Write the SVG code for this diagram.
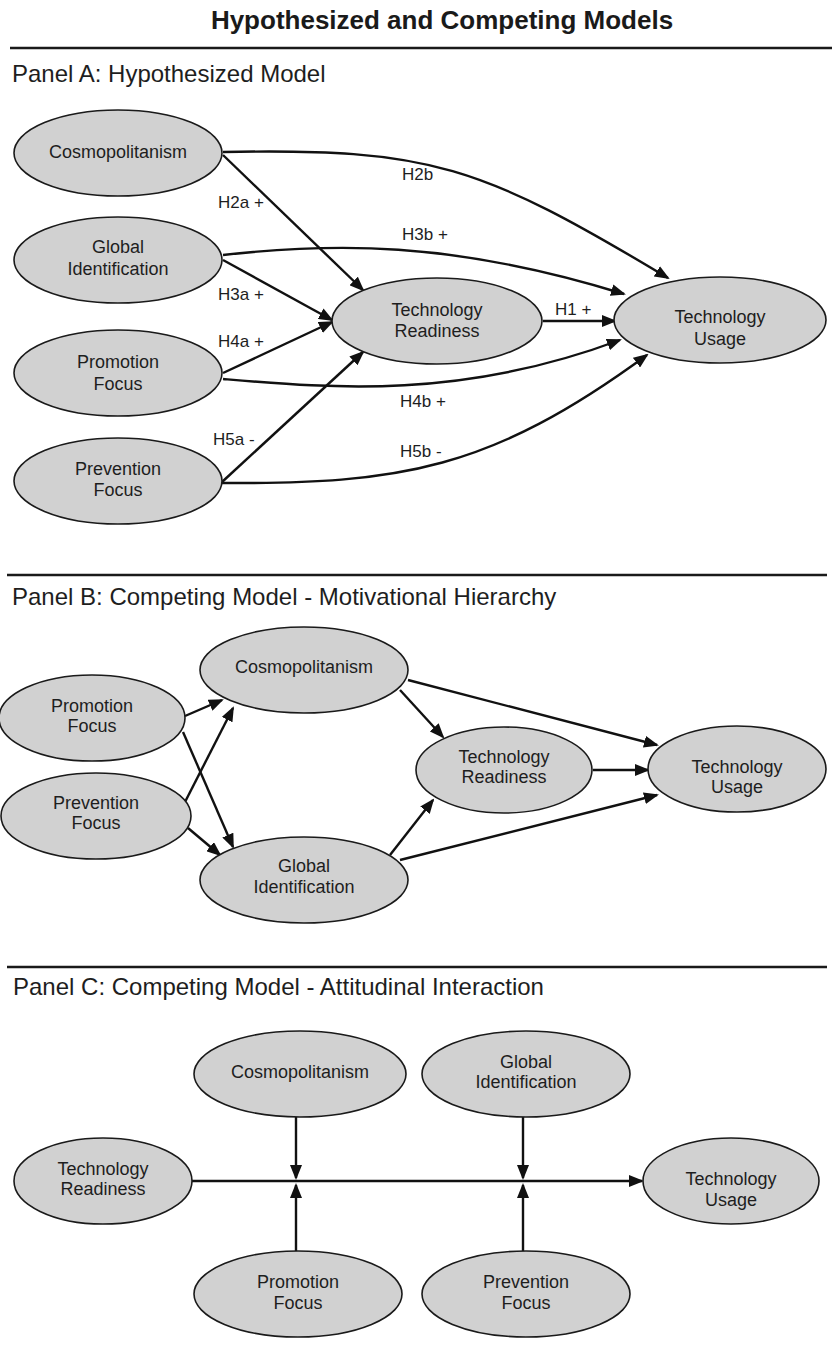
<svg xmlns="http://www.w3.org/2000/svg" width="832" height="1361" viewBox="0 0 832 1361">
<defs>
<style>
.bg{fill:#ffffff}
.node ellipse{fill:#d1d1d1;stroke:#1a1a1a;stroke-width:1.6}
.node text{font-family:"Liberation Sans",Arial,sans-serif;font-size:18px;fill:#1e1e1e;text-anchor:middle}
.title{font-family:"Liberation Sans",Arial,sans-serif;font-size:26px;font-weight:bold;fill:#1a1a1a;text-anchor:middle}
.panel{font-family:"Liberation Sans",Arial,sans-serif;font-size:24px;fill:#1e1e1e}
.lbl{font-family:"Liberation Sans",Arial,sans-serif;font-size:17px;fill:#1e1e1e}
.rule{stroke:#1a1a1a;stroke-width:2.4}
.edge{fill:none;stroke:#111;stroke-width:2.4;marker-end:url(#ah)}
</style>
<marker id="ah" markerUnits="userSpaceOnUse" viewBox="0 0 15 12" markerWidth="15" markerHeight="12" refX="13" refY="6" orient="auto">
<path d="M0,0 L15,6 L0,12 z" fill="#111"/>
</marker>
</defs>
<rect class="bg" x="0" y="0" width="832" height="1361"/>

<text class="title" x="442" y="29">Hypothesized and Competing Models</text>
<line class="rule" x1="10" y1="48" x2="832" y2="48"/>
<text class="panel" x="12" y="82">Panel A: Hypothesized Model</text>
<line class="rule" x1="7" y1="575" x2="827" y2="575"/>
<text class="panel" x="12" y="605">Panel B: Competing Model - Motivational Hierarchy</text>
<line class="rule" x1="7" y1="967" x2="827" y2="967"/>
<text class="panel" x="13" y="995">Panel C: Competing Model - Attitudinal Interaction</text>

<!-- Panel A connectors -->
<g id="connectors-a">
<path class="edge" d="M223,152 C430,148 480,165 668,278"/>
<path class="edge" d="M223,255 C330,243 450,240 624,294"/>
<path class="edge" d="M223,379 C330,388 460,400 620,340"/>
<path class="edge" d="M222,483 C400,484 490,470 647,355"/>
<line class="edge" x1="223" y1="155" x2="363" y2="290"/>
<line class="edge" x1="223" y1="260" x2="332" y2="320"/>
<line class="edge" x1="223" y1="373" x2="332" y2="322"/>
<line class="edge" x1="222" y1="482" x2="363" y2="352"/>
<line class="edge" x1="543" y1="321" x2="615" y2="321"/>
<text class="lbl" x="218" y="208">H2a +</text>
<text class="lbl" x="402" y="180">H2b</text>
<text class="lbl" x="402" y="240">H3b +</text>
<text class="lbl" x="218" y="300">H3a +</text>
<text class="lbl" x="555" y="315">H1 +</text>
<text class="lbl" x="218" y="347">H4a +</text>
<text class="lbl" x="400" y="407">H4b +</text>
<text class="lbl" x="213" y="445">H5a -</text>
<text class="lbl" x="400" y="457">H5b -</text>
</g>

<g id="a-cosmopolitanism" class="node"><ellipse cx="118" cy="153" rx="104" ry="43"/><text x="118" y="158">Cosmopolitanism</text></g>
<g id="a-global" class="node"><ellipse cx="118" cy="260" rx="104" ry="43"/><text x="118" y="253">Global</text><text x="118" y="275">Identification</text></g>
<g id="a-promotion" class="node"><ellipse cx="118" cy="373" rx="104" ry="43"/><text x="118" y="368">Promotion</text><text x="118" y="390">Focus</text></g>
<g id="a-prevention" class="node"><ellipse cx="118" cy="481" rx="104" ry="43"/><text x="118" y="475">Prevention</text><text x="118" y="496">Focus</text></g>
<g id="a-readiness" class="node"><ellipse cx="437" cy="321" rx="105" ry="43"/><text x="437" y="316">Technology</text><text x="437" y="337">Readiness</text></g>
<g id="a-usage" class="node"><ellipse cx="720" cy="320" rx="106" ry="43"/><text x="720" y="323">Technology</text><text x="720" y="345">Usage</text></g>

<!-- Panel B connectors -->
<g id="connectors-b">
<line class="edge" x1="185" y1="716" x2="222" y2="700"/>
<line class="edge" x1="183" y1="732" x2="233" y2="847"/>
<line class="edge" x1="185" y1="802" x2="233" y2="708"/>
<line class="edge" x1="188" y1="828" x2="220" y2="855"/>
<line class="edge" x1="400" y1="690" x2="443" y2="737"/>
<line class="edge" x1="408" y1="680" x2="657" y2="745"/>
<line class="edge" x1="390" y1="855" x2="433" y2="800"/>
<line class="edge" x1="400" y1="860" x2="657" y2="795"/>
<line class="edge" x1="593" y1="770" x2="648" y2="770"/>
</g>

<g id="b-cosmopolitanism" class="node"><ellipse cx="304" cy="670" rx="104" ry="43"/><text x="304" y="673">Cosmopolitanism</text></g>
<g id="b-promotion" class="node"><ellipse cx="92" cy="718" rx="93" ry="43"/><text x="92" y="712">Promotion</text><text x="92" y="732">Focus</text></g>
<g id="b-prevention" class="node"><ellipse cx="96" cy="816" rx="95" ry="43"/><text x="96" y="809">Prevention</text><text x="96" y="829">Focus</text></g>
<g id="b-global" class="node"><ellipse cx="304" cy="880" rx="104" ry="43"/><text x="304" y="872">Global</text><text x="304" y="893">Identification</text></g>
<g id="b-readiness" class="node"><ellipse cx="504" cy="770" rx="88" ry="43"/><text x="504" y="763">Technology</text><text x="504" y="783">Readiness</text></g>
<g id="b-usage" class="node"><ellipse cx="737" cy="769" rx="89" ry="43"/><text x="737" y="773">Technology</text><text x="737" y="793">Usage</text></g>

<!-- Panel C connectors -->
<g id="connectors-c">
<line class="edge" x1="192" y1="1181" x2="642" y2="1181"/>
<line class="edge" x1="296" y1="1117" x2="296" y2="1178"/>
<line class="edge" x1="523" y1="1117" x2="523" y2="1178"/>
<line class="edge" x1="296" y1="1251" x2="296" y2="1185"/>
<line class="edge" x1="523" y1="1251" x2="523" y2="1185"/>
</g>

<g id="c-cosmopolitanism" class="node"><ellipse cx="300" cy="1074" rx="106" ry="43"/><text x="300" y="1078">Cosmopolitanism</text></g>
<g id="c-global" class="node"><ellipse cx="526" cy="1074" rx="104" ry="43"/><text x="526" y="1068">Global</text><text x="526" y="1088">Identification</text></g>
<g id="c-readiness" class="node"><ellipse cx="103" cy="1181" rx="89" ry="43"/><text x="103" y="1175">Technology</text><text x="103" y="1195">Readiness</text></g>
<g id="c-usage" class="node"><ellipse cx="731" cy="1181" rx="88" ry="43"/><text x="731" y="1185">Technology</text><text x="731" y="1206">Usage</text></g>
<g id="c-promotion" class="node"><ellipse cx="298" cy="1294" rx="104" ry="43"/><text x="298" y="1288">Promotion</text><text x="298" y="1309">Focus</text></g>
<g id="c-prevention" class="node"><ellipse cx="526" cy="1294" rx="104" ry="43"/><text x="526" y="1288">Prevention</text><text x="526" y="1309">Focus</text></g>
</svg>
